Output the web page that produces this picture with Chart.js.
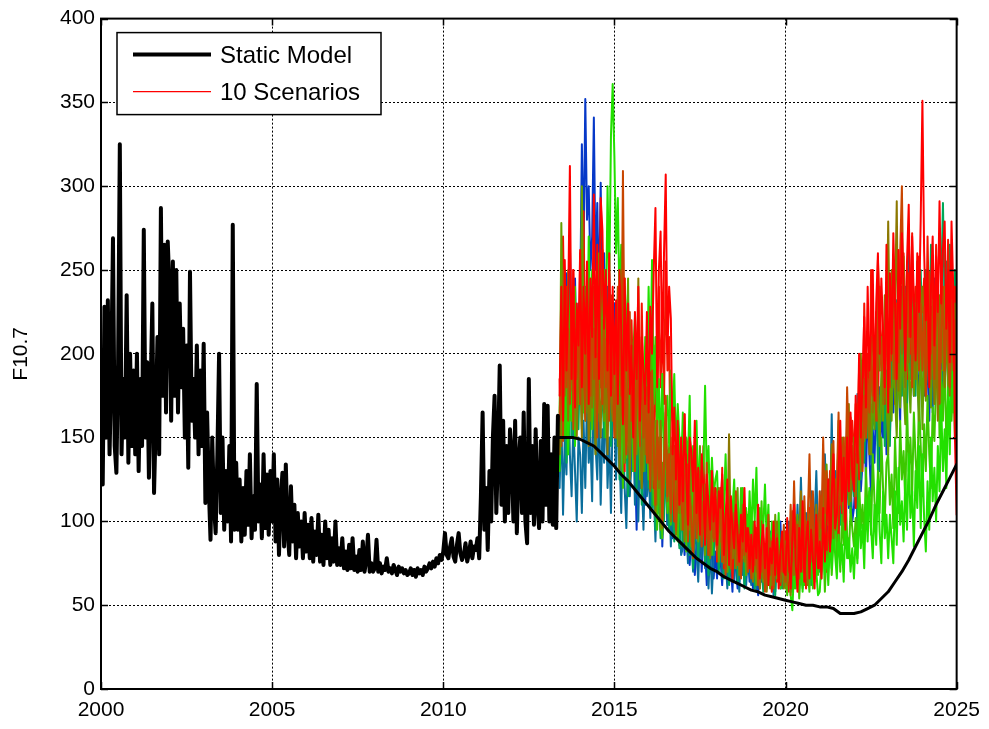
<!DOCTYPE html>
<html>
<head>
<meta charset="utf-8">
<title>F10.7</title>
<script src="https://cdn.jsdelivr.net/npm/chart.js"></script>
<style>
  html, body { margin: 0; padding: 0; background: #fff; }
  #wrap { width: 989px; height: 729px; }
</style>
</head>
<body>
<div id="wrap"><canvas id="f107Chart" width="989" height="729"></canvas></div>
<script>
// Axis ticks
const xTicks = [2000, 2005, 2010, 2015, 2020, 2025];
const yTicks = [0, 50, 100, 150, 200, 250, 300, 350, 400];

// Observed flux, sampled every 0.05 yr from 2000.00 (one row per year)
const histStart = 2000.0;
const histStep = 0.05;
const history = [
  200, 122, 228, 150, 232, 140, 190, 269, 145, 129, 195, 325, 140, 185, 150, 235, 135, 200, 145, 190,
  140, 200, 130, 185, 145, 274, 150, 195, 126, 180, 230, 117, 160, 210, 140, 287, 175, 265, 165, 267,
  240, 160, 255, 175, 250, 165, 230, 180, 215, 150, 205, 132, 249, 160, 185, 150, 205, 140, 190, 145,
  206, 111, 165, 120, 89, 150, 110, 93, 140, 200, 105, 150, 95, 130, 100, 145, 88, 277, 95, 135,
  95, 125, 88, 120, 92, 130, 98, 140, 90, 115, 95, 182, 100, 122, 90, 140, 96, 128, 92, 130,
  100, 140, 88, 125, 80, 112, 129, 85, 134, 95, 80, 121, 88, 110, 78, 105, 85, 100, 78, 105,
  82, 98, 78, 102, 76, 94, 80, 104, 76, 92, 74, 100, 78, 95, 74, 90, 76, 100, 74, 84,
  74, 90, 72, 82, 71, 86, 72, 90, 71, 79, 70, 83, 71, 88, 70, 77, 92, 70, 75, 70,
  72, 89, 70, 75, 69, 73, 71, 78, 70, 72, 69, 74, 71, 68, 73, 70, 72, 69, 71, 68,
  69, 72, 68, 71, 67, 72, 69, 71, 68, 73, 70, 72, 75, 72, 76, 73, 78, 75, 80, 77,
  82, 93, 80, 78, 85, 90, 79, 76, 86, 93, 81, 77, 80, 87, 76, 81, 88, 78, 85, 83,
  90, 78, 115, 165, 95, 120, 83, 130, 100, 150, 175, 105, 140, 193, 110, 160, 100, 145, 105, 155,
  140, 100, 160, 93, 135, 150, 105, 165, 100, 87, 185, 105, 145, 98, 155, 110, 96, 148, 100, 170,
  110, 169, 100, 140, 98, 150, 96, 163
];

// Static model forecast, every 0.2 yr from 2013.4
const modelStart = 2013.4;
const modelStep = 0.2;
const staticModel = [
  150, 150, 150, 149, 147, 145, 141, 137, 133, 128, 124, 119, 114, 109, 104, 99, 94, 90, 86, 82,
  78, 75, 72, 70, 67, 65, 63, 61, 59, 58, 56, 55, 54, 53, 52, 51, 50, 50, 49, 49,
  48, 45, 45, 45, 46, 48, 50, 54, 58, 64, 70, 77, 85, 93, 101, 110, 118, 126, 134
];

// Scenario runs, every 0.05 yr from 2013.40 to 2025.00
// first row: 2013.40-2013.95, then one row per year, then the 2025.00 value
const scenStart = 2013.4;
const scenStep = 0.05;
const scenRed = [
  175, 240, 160, 256, 190, 230, 312, 185, 250, 168, 230, 205,
  262, 180, 240, 200, 255, 170, 245, 210, 295, 198, 265, 185, 293, 274, 215, 250, 190, 260, 175, 240,
  188, 232, 170, 250, 214, 158, 245, 190, 230, 176, 205, 150, 225, 185, 240, 160, 210, 190, 170, 225,
  165, 228, 200, 250, 287, 180, 250, 273, 195, 260, 307, 200, 240, 221, 140, 168, 125, 160, 110, 150,
  112, 164, 130, 98, 150, 142, 118, 160, 105, 132, 92, 140, 120, 86, 128, 108, 95, 130, 100, 120,
  86, 118, 108, 128, 80, 102, 125, 74, 115, 96, 84, 110, 92, 76, 104, 88, 120, 82, 96, 72,
  92, 70, 100, 78, 110, 66, 88, 98, 72, 96, 62, 84, 75, 100, 68, 90, 60, 82, 94, 70,
  68, 102, 76, 60, 90, 110, 74, 58, 96, 70, 112, 64, 88, 100, 66, 95, 78, 60, 104, 72,
  88, 66, 108, 76, 98, 125, 82, 115, 140, 96, 104, 130, 160, 112, 138, 95, 150, 118, 165, 130,
  118, 175, 135, 200, 150, 185, 222, 168, 240, 190, 215, 250, 172, 230, 260, 200, 245, 215, 180, 265,
  165, 248, 200, 272, 230, 185, 262, 215, 272, 240, 190, 255, 289, 210, 270, 232, 196, 260, 225, 280,
  351, 261, 220, 250, 180, 240, 270, 205, 258, 225, 291, 230, 262, 279, 215, 250, 195, 279, 240, 150,
  104
];
const scenRed2 = [
  185, 145, 270, 200, 240, 175, 225, 160, 250, 190, 215, 170,
  260, 210, 285, 190, 230, 250, 175, 215, 240, 160, 235, 205, 180, 262, 195, 225, 170, 248, 210, 185,
  195, 150, 210, 240, 175, 200, 130, 190, 225, 155, 220, 180, 140, 205, 185, 160, 230, 170, 145, 200,
  135, 190, 170, 120, 205, 150, 240, 180, 220, 170, 255, 190, 210, 118, 145, 100, 130, 115, 150, 105,
  130, 164, 96, 140, 120, 88, 140, 112, 130, 90, 122, 102, 145, 95, 115, 80, 108, 125, 90, 110,
  76, 110, 88, 132, 72, 96, 118, 80, 104, 64, 90, 112, 78, 100, 68, 94, 84, 106, 72, 88,
  104, 76, 92, 68, 86, 60, 100, 72, 80, 66, 95, 70, 58, 88, 74, 64, 92, 62, 78, 84,
  94, 76, 58, 82, 106, 68, 88, 62, 100, 80, 70, 96, 60, 84, 108, 74, 90, 66, 98, 80,
  72, 115, 86, 102, 70, 96, 130, 84, 110, 95, 122, 88, 140, 105, 126, 98, 150, 115, 135, 160,
  142, 108, 160, 125, 185, 140, 230, 175, 200, 150, 250, 205, 180, 225, 160, 240, 195, 215, 170, 235,
  180, 232, 196, 255, 170, 215, 180, 240, 205, 260, 220, 185, 248, 200, 272, 215, 240, 195, 258, 225,
  225, 245, 190, 270, 210, 176, 248, 200, 265, 232, 185, 252, 215, 240, 195, 268, 225, 250, 205, 240,
  215
];
const scenOrange = [
  160, 205, 148, 238, 180, 215, 170, 230, 155, 200, 185, 225,
  170, 225, 190, 160, 245, 200, 175, 230, 185, 210, 150, 240, 195, 170, 220, 180, 205, 160, 235, 190,
  150, 195, 240, 210, 175, 309, 190, 140, 205, 225, 160, 185, 130, 200, 170, 145, 210, 150, 180, 135,
  170, 120, 190, 145, 110, 160, 125, 150, 100, 135, 175, 115, 140, 105, 150, 120, 95, 135, 110, 125,
  95, 122, 140, 88, 115, 100, 78, 130, 90, 108, 125, 85, 112, 95, 135, 80, 104, 118, 88, 100,
  82, 98, 120, 76, 94, 68, 112, 80, 72, 100, 86, 118, 74, 92, 66, 104, 80, 96, 70, 88,
  66, 84, 74, 96, 62, 78, 70, 90, 58, 82, 104, 68, 88, 60, 76, 92, 64, 80, 70, 98,
  64, 92, 70, 110, 76, 124, 84, 98, 66, 88, 72, 115, 82, 102, 140, 90, 118, 78, 100, 86,
  118, 96, 150, 105, 130, 112, 88, 125, 148, 100, 122, 165, 110, 138, 150, 120, 180, 140, 162, 125,
  135, 170, 145, 192, 160, 130, 175, 150, 185, 165, 208, 175, 198, 160, 256, 227, 190, 210, 175, 225,
  215, 180, 240, 205, 185, 230, 195, 260, 300, 225, 195, 250, 210, 236, 180, 222, 200, 248, 190, 230,
  190, 228, 175, 210, 249, 200, 232, 185, 220, 249, 170, 215, 240, 190, 225, 205, 180, 232, 195, 220,
  150
];
const scenOlive = [
  140, 185, 250, 175, 210, 160, 195, 230, 170, 205, 150, 190,
  195, 150, 230, 178, 205, 145, 190, 168, 215, 140, 200, 175, 150, 220, 165, 190, 140, 205, 175, 160,
  175, 150, 198, 130, 185, 160, 245, 140, 170, 125, 190, 155, 135, 175, 245, 150, 120, 165, 140, 180,
  155, 118, 170, 135, 105, 148, 120, 160, 96, 130, 150, 112, 140, 100, 125, 145, 92, 118, 105, 135,
  112, 88, 125, 100, 145, 92, 80, 118, 98, 110, 130, 86, 104, 122, 90, 115, 78, 100, 120, 94,
  84, 120, 95, 110, 75, 105, 90, 152, 90, 78, 105, 72, 98, 68, 88, 110, 76, 96, 70, 85,
  88, 64, 80, 70, 94, 60, 76, 66, 86, 58, 72, 90, 62, 80, 68, 100, 74, 64, 84, 60,
  72, 62, 90, 56, 78, 68, 100, 74, 86, 118, 70, 95, 80, 62, 104, 76, 92, 68, 110, 82,
  80, 104, 92, 130, 98, 120, 110, 146, 90, 125, 105, 160, 118, 135, 100, 150, 128, 170, 112, 145,
  138, 115, 170, 145, 200, 160, 185, 150, 175, 140, 210, 165, 195, 178, 229, 190, 210, 170, 235, 200,
  279, 205, 250, 185, 230, 291, 178, 240, 200, 258, 180, 225, 195, 245, 210, 230, 185, 255, 200, 220,
  240, 210, 175, 230, 198, 185, 220, 170, 205, 160, 235, 195, 215, 180, 225, 200, 175, 210, 190, 230,
  190
];
const scenOliveGreen = [
  150, 278, 190, 225, 170, 250, 200, 180, 235, 165, 215, 190,
  180, 300, 210, 165, 235, 190, 160, 220, 175, 200, 240, 170, 215, 185, 160, 230, 195, 175, 210, 165,
  160, 210, 145, 190, 230, 160, 135, 200, 245, 150, 185, 170, 210, 140, 175, 155, 200, 130, 170, 150,
  180, 140, 200, 125, 160, 110, 150, 95, 135, 120, 165, 130, 145, 108, 150, 125, 100, 140, 115, 95,
  105, 140, 92, 125, 110, 85, 130, 100, 118, 88, 145, 96, 112, 80, 125, 104, 90, 132, 98, 115,
  110, 76, 98, 125, 82, 104, 70, 92, 115, 78, 100, 88, 120, 74, 96, 84, 108, 68, 90, 102,
  95, 68, 84, 62, 102, 74, 90, 64, 80, 70, 96, 60, 86, 72, 104, 66, 82, 76, 92, 64,
  60, 84, 72, 96, 66, 88, 78, 104, 70, 92, 62, 80, 98, 74, 86, 110, 76, 94, 68, 88,
  100, 78, 118, 90, 134, 98, 112, 140, 106, 125, 95, 135, 115, 150, 102, 128, 145, 110, 155, 125,
  150, 118, 142, 165, 130, 178, 148, 195, 160, 172, 140, 185, 155, 200, 168, 145, 190, 160, 210, 175,
  140, 185, 160, 205, 175, 150, 198, 168, 212, 180, 158, 220, 190, 165, 205, 175, 230, 185, 160, 215,
  155, 200, 172, 225, 190, 168, 210, 182, 230, 200, 175, 220, 190, 240, 205, 180, 225, 195, 215, 185,
  175
];
const scenGreen = [
  130, 165, 220, 150, 195, 140, 180, 160, 210, 145, 190, 170,
  180, 215, 165, 240, 190, 270, 210, 250, 185, 230, 200, 260, 220, 190, 250, 210, 300, 240, 330, 361,
  318, 260, 293, 230, 265, 200, 240, 221, 180, 205, 160, 200, 221, 175, 215, 160, 195, 150, 210, 175,
  240, 190, 256, 170, 210, 150, 185, 140, 188, 130, 160, 175, 145, 190, 160, 188, 140, 170, 150, 130,
  165, 120, 150, 135, 175, 110, 145, 125, 160, 115, 140, 105, 130, 181, 125, 145, 105, 138, 115, 125,
  130, 95, 120, 88, 110, 140, 96, 118, 82, 106, 125, 90, 112, 100, 84, 120, 95, 108, 86, 118,
  90, 125, 100, 132, 84, 108, 76, 96, 122, 88, 110, 70, 100, 84, 92, 76, 105, 68, 88, 74,
  88, 64, 80, 56, 47, 72, 60, 92, 66, 84, 58, 105, 76, 98, 66, 84, 60, 92, 70, 56,
  58, 76, 94, 68, 82, 62, 90, 72, 104, 80, 66, 92, 74, 86, 64, 100, 78, 90, 70, 84,
  66, 92, 75, 108, 84, 98, 72, 114, 88, 120, 96, 78, 110, 86, 125, 94, 75, 118, 90, 104,
  78, 104, 90, 75, 118, 86, 132, 98, 112, 88, 125, 95, 140, 102, 118, 85, 130, 108, 145, 96,
  140, 102, 82, 124, 95, 150, 112, 132, 100, 145, 118, 170, 130, 155, 120, 180, 140, 221, 165, 200,
  190
];
const scenMidGreen = [
  165, 230, 178, 200, 150, 220, 185, 205, 160, 240, 175, 195,
  170, 195, 240, 160, 210, 180, 230, 155, 195, 175, 220, 165, 250, 185, 205, 150, 215, 180, 195, 165,
  210, 160, 185, 140, 175, 120, 165, 138, 190, 145, 175, 130, 200, 150, 165, 125, 180, 140, 155, 170,
  125, 160, 140, 110, 150, 95, 135, 115, 90, 128, 145, 105, 120, 98, 140, 110, 125, 88, 115, 130,
  100, 136, 82, 115, 95, 125, 86, 108, 140, 92, 118, 100, 128, 85, 112, 95, 130, 80, 105, 120,
  118, 84, 100, 76, 112, 90, 70, 105, 80, 95, 110, 74, 98, 86, 120, 78, 92, 68, 104, 88,
  74, 100, 82, 66, 90, 70, 112, 78, 64, 88, 96, 70, 84, 62, 100, 76, 90, 60, 80, 72,
  70, 56, 82, 66, 94, 60, 76, 90, 54, 72, 86, 62, 100, 70, 58, 88, 74, 64, 96, 68,
  80, 66, 92, 58, 84, 74, 100, 68, 88, 110, 76, 95, 70, 104, 86, 120, 92, 78, 108, 96,
  85, 102, 78, 125, 96, 110, 88, 132, 105, 118, 92, 140, 112, 98, 130, 105, 150, 120, 100, 135,
  140, 110, 128, 96, 150, 118, 105, 160, 125, 142, 110, 170, 130, 150, 115, 165, 138, 120, 175, 145,
  115, 158, 130, 175, 140, 120, 168, 148, 185, 212, 150, 190, 160, 200, 145, 175, 210, 160, 185, 150,
  170
];
const scenSeaGreen = [
  145, 190, 160, 215, 135, 175, 200, 150, 185, 165, 210, 155,
  200, 155, 180, 220, 165, 195, 150, 210, 170, 140, 185, 160, 225, 175, 150, 195, 165, 205, 145, 180,
  185, 150, 170, 125, 160, 195, 135, 150, 115, 140, 170, 130, 155, 120, 175, 140, 110, 150, 130, 160,
  120, 155, 108, 130, 95, 140, 112, 90, 125, 100, 135, 115, 95, 128, 105, 88, 120, 100, 84, 110,
  85, 110, 92, 125, 80, 100, 72, 95, 112, 78, 104, 88, 120, 76, 98, 68, 90, 108, 80, 94,
  96, 70, 88, 104, 66, 82, 94, 62, 78, 90, 72, 100, 64, 86, 76, 92, 60, 80, 70, 88,
  68, 80, 60, 76, 88, 64, 72, 58, 84, 66, 78, 62, 90, 70, 56, 82, 64, 74, 60, 86,
  74, 62, 86, 70, 58, 80, 92, 66, 78, 88, 60, 75, 96, 68, 82, 62, 90, 72, 100, 78,
  70, 96, 82, 108, 90, 76, 120, 94, 130, 105, 88, 115, 98, 135, 110, 90, 125, 140, 105, 130,
  115, 140, 98, 155, 125, 165, 135, 180, 150, 200, 140, 170, 155, 190, 130, 175, 160, 205, 145, 185,
  170, 145, 210, 180, 225, 160, 195, 215, 175, 235, 190, 165, 220, 185, 240, 200, 175, 230, 195, 250,
  205, 190, 250, 220, 200, 265, 230, 210, 245, 225, 195, 240, 290, 230, 255, 210, 265, 235, 200, 250,
  180
];
const scenTeal = [
  120, 165, 104, 150, 128, 185, 140, 115, 160, 130, 100, 150,
  140, 105, 160, 120, 175, 135, 150, 112, 190, 145, 125, 170, 110, 155, 135, 180, 120, 150, 105, 165,
  165, 125, 180, 140, 105, 158, 120, 96, 145, 115, 135, 160, 110, 140, 100, 150, 125, 95, 138, 115,
  132, 102, 150, 118, 88, 125, 105, 140, 92, 110, 130, 98, 120, 85, 112, 100, 125, 90, 108, 80,
  84, 120, 96, 75, 108, 88, 70, 100, 82, 64, 95, 78, 110, 72, 90, 60, 86, 57, 80, 98,
  94, 72, 86, 66, 104, 78, 60, 88, 70, 82, 64, 92, 74, 58, 85, 68, 96, 62, 78, 70,
  62, 90, 74, 58, 80, 96, 66, 84, 60, 76, 88, 64, 72, 56, 82, 68, 92, 60, 74, 66,
  88, 68, 100, 74, 62, 92, 78, 110, 84, 126, 90, 72, 105, 80, 96, 118, 86, 100, 130, 92,
  96, 118, 88, 140, 106, 125, 98, 164, 102, 130, 114, 150, 108, 124, 140, 115, 160, 130, 145, 120,
  140, 110, 176, 132, 160, 176, 145, 190, 150, 205, 135, 170, 160, 195, 145, 180, 165, 210, 155, 190,
  158, 196, 174, 215, 185, 232, 200, 180, 225, 175, 240, 195, 271, 210, 185, 230, 200, 245, 190, 225,
  195, 240, 175, 210, 190, 228, 165, 205, 182, 240, 200, 225, 185, 250, 210, 195, 235, 180, 220, 240,
  205
];
const scenBlue = [
  150, 182, 215, 170, 248, 200, 265, 210, 180, 245, 190, 230,
  230, 325, 260, 352, 280, 300, 250, 270, 341, 250, 290, 230, 302, 220, 260, 200, 240, 185, 225, 190,
  230, 175, 205, 150, 190, 165, 135, 180, 150, 170, 130, 160, 140, 95, 150, 120, 165, 130, 110, 145,
  140, 110, 165, 125, 96, 138, 108, 150, 85, 120, 135, 98, 125, 110, 90, 130, 100, 118, 86, 104,
  110, 80, 95, 118, 74, 90, 104, 68, 86, 76, 100, 70, 92, 84, 62, 96, 74, 88, 66, 82,
  66, 92, 78, 62, 84, 70, 96, 64, 76, 58, 88, 72, 60, 82, 68, 90, 62, 74, 80, 64,
  72, 60, 82, 66, 56, 74, 64, 86, 70, 60, 78, 94, 62, 76, 58, 84, 68, 100, 72, 64,
  78, 95, 66, 82, 100, 72, 88, 64, 90, 76, 62, 84, 98, 70, 86, 66, 104, 78, 92, 70,
  84, 70, 98, 80, 112, 92, 104, 86, 122, 98, 110, 90, 128, 100, 118, 95, 135, 108, 124, 100,
  108, 130, 96, 145, 118, 135, 160, 125, 170, 140, 115, 155, 135, 175, 148, 130, 168, 150, 185, 140,
  185, 150, 200, 165, 220, 178, 195, 160, 240, 186, 205, 170, 230, 190, 210, 175, 225, 195, 165, 215,
  210, 175, 232, 190, 160, 218, 200, 245, 180, 225, 195, 215, 170, 235, 205, 185, 220, 200, 175, 210,
  160
];

// Drawn top to bottom: first entry ends up on top
const scenarios = [scenRed, scenOrange, scenOlive, scenGreen, scenOliveGreen,
                   scenRed2, scenMidGreen, scenSeaGreen, scenTeal, scenBlue];
const scenarioColors = ['#ff0000', '#c84600', '#8c7800', '#22e000', '#64a000',
                        '#f41400', '#3cc800', '#00a858', '#0a6e9c', '#0638c8'];

function toPoints(values, start, step) {
  return values.map((v, i) => ({ x: start + i * step, y: v }));
}

const FONT = '"Liberation Sans", Arial, Helvetica, sans-serif';
Chart.defaults.font.family = FONT;
Chart.defaults.color = '#000';

// Box, inward ticks and the legend, drawn on top of the data
const matlabAxes = {
  id: 'matlabAxes',
  afterDatasetsDraw(chart) {
    const ctx = chart.ctx;
    const a = chart.chartArea;
    const xs = chart.scales.x, ys = chart.scales.y;
    const tl = 7;
    ctx.save();
    ctx.strokeStyle = '#000';
    ctx.lineWidth = 2;
    ctx.strokeRect(a.left, a.top, a.right - a.left, a.bottom - a.top);
    ctx.lineWidth = 1.5;
    ctx.beginPath();
    xTicks.forEach(t => {
      const px = Math.round(xs.getPixelForValue(t)) + 0.5;
      ctx.moveTo(px, a.bottom); ctx.lineTo(px, a.bottom - tl);
      ctx.moveTo(px, a.top); ctx.lineTo(px, a.top + tl);
    });
    yTicks.forEach(t => {
      const py = Math.round(ys.getPixelForValue(t)) + 0.5;
      ctx.moveTo(a.left, py); ctx.lineTo(a.left + tl, py);
      ctx.moveTo(a.right, py); ctx.lineTo(a.right - tl, py);
    });
    ctx.stroke();
    ctx.restore();
  },
  afterDraw(chart) {
    const ctx = chart.ctx;
    const a = chart.chartArea;
    const x = a.left + 16, y = a.top + 14, w = 264, h = 82;
    const entries = chart.data.datasets.filter(d => d.inLegend);
    ctx.save();
    ctx.fillStyle = '#fff';
    ctx.fillRect(x, y, w, h);
    ctx.strokeStyle = '#000';
    ctx.lineWidth = 1.5;
    ctx.strokeRect(x, y, w, h);
    ctx.font = '24px ' + FONT;
    ctx.textBaseline = 'middle';
    ctx.fillStyle = '#000';
    entries.forEach((d, i) => {
      const ly = y + 22 + i * 37;
      ctx.strokeStyle = d.borderColor;
      ctx.lineWidth = d.legendWidth;
      ctx.beginPath();
      ctx.moveTo(x + 16, ly);
      ctx.lineTo(x + 94, ly);
      ctx.stroke();
      ctx.fillText(d.label, x + 103, ly + 2);
    });
    ctx.restore();
  }
};

const datasets = [
  {
    label: 'Observed',
    data: toPoints(history, histStart, histStep),
    borderColor: '#000',
    borderWidth: 4
  },
  {
    label: 'Static Model',
    data: toPoints(staticModel, modelStart, modelStep),
    borderColor: '#000',
    borderWidth: 3,
    inLegend: true,
    legendWidth: 4
  }
];
scenarios.forEach((vals, i) => {
  datasets.push({
    label: i === 0 ? '10 Scenarios' : 'Scenario ' + (i + 1),
    data: toPoints(vals, scenStart, scenStep),
    borderColor: scenarioColors[i],
    borderWidth: 2,
    inLegend: i === 0,
    legendWidth: 1.2
  });
});

new Chart(document.getElementById('f107Chart'), {
  type: 'line',
  data: { datasets: datasets },
  options: {
    responsive: false,
    animation: false,
    elements: {
      point: { radius: 0, hoverRadius: 0 },
      line: { tension: 0, borderCapStyle: 'round', borderJoinStyle: 'round' }
    },
    layout: { padding: { top: 17, right: 32, left: 0, bottom: 0 } },
    plugins: {
      legend: { display: false },
      tooltip: { enabled: false }
    },
    scales: {
      x: {
        type: 'linear',
        min: 2000,
        max: 2025,
        afterFit: s => { s.height = 40; },
        afterBuildTicks: s => { s.ticks = xTicks.map(v => ({ value: v })); },
        ticks: {
          padding: 9,
          font: { size: 21 },
          callback: v => String(v)
        },
        grid: { color: '#000', lineWidth: 1, drawTicks: false },
        border: { display: false, dash: [2, 2] }
      },
      y: {
        type: 'linear',
        min: 0,
        max: 400,
        afterFit: s => { s.width = 101; },
        afterBuildTicks: s => { s.ticks = yTicks.map(v => ({ value: v })); },
        ticks: {
          padding: 6,
          font: { size: 21 },
          callback: v => String(v)
        },
        grid: { color: '#000', lineWidth: 1, drawTicks: false },
        border: { display: false, dash: [2, 2] },
        title: {
          display: true,
          text: 'F10.7',
          font: { size: 21 },
          padding: { top: 9, bottom: 0 }
        }
      }
    }
  },
  plugins: [matlabAxes]
});
</script>
</body>
</html>
